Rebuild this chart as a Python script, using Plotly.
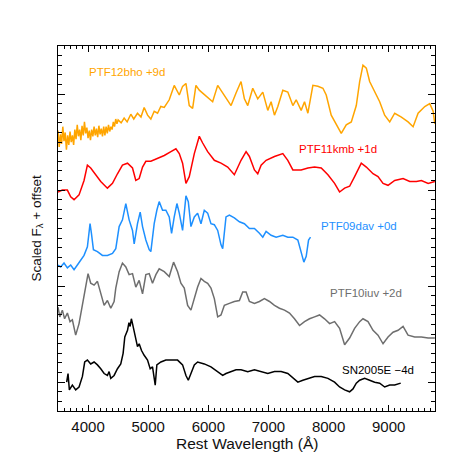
import plotly.graph_objects as go

# PTF12bho +9d (orange)
wl_12bho = [3500, 3520, 3540, 3560, 3580, 3600, 3620, 3640, 3660, 3680, 3700, 3720, 3740, 3760, 3780,
            3800, 3820, 3840, 3860, 3880, 3900, 3920, 3940, 3960, 3980, 4000, 4020, 4040, 4060, 4080,
            4100, 4120, 4140, 4160, 4180, 4200, 4220, 4240, 4260, 4280, 4300, 4320, 4340, 4360, 4380,
            4400, 4420, 4440, 4460, 4480, 4500, 4550, 4600, 4650, 4711, 4760, 4822, 4880, 4933, 4990,
            5044, 5100, 5156, 5210, 5267, 5350, 5433, 5517, 5572, 5628, 5683, 5739, 5794, 5850, 5906,
            5989, 6072, 6156, 6239, 6322, 6378, 6461, 6544, 6600, 6656, 6739, 6822, 6906, 6989, 7044,
            7100, 7156, 7239, 7322, 7406, 7461, 7544, 7600, 7656, 7739, 7822, 7906, 7961, 8044, 8128,
            8211, 8294, 8378, 8461, 8517, 8572, 8628, 8683, 8767, 8850, 8933, 9017, 9100, 9211, 9322,
            9406, 9489, 9600, 9683, 9739, 9767]
fl_12bho = [3.62, 3.45, 3.58, 3.48, 3.66, 3.51, 3.60, 3.42, 3.57, 3.47, 3.61, 3.50, 3.57, 3.47, 3.63,
            3.53, 3.68, 3.56, 3.63, 3.52, 3.67, 3.57, 3.71, 3.59, 3.65, 3.54, 3.62, 3.52, 3.63, 3.56,
            3.66, 3.57, 3.64, 3.55, 3.67, 3.58, 3.64, 3.56, 3.66, 3.57, 3.66, 3.59, 3.68, 3.61, 3.66,
            3.63, 3.71, 3.66, 3.74, 3.69, 3.73, 3.70, 3.75, 3.71, 3.79, 3.74, 3.80, 3.76, 3.86, 3.78,
            3.74, 3.82, 3.80, 3.87, 3.86, 3.94, 4.09, 3.99, 4.08, 4.11, 3.88, 3.85, 4.09, 4.04, 4.01,
            3.96, 3.92, 4.09, 4.01, 3.94, 3.88, 4.01, 4.13, 3.95, 3.88, 4.06, 3.95, 4.02, 3.83, 3.92,
            3.78, 3.87, 4.04, 4.02, 3.88, 3.94, 3.83, 3.92, 3.80, 4.09, 4.08, 4.06, 3.99, 3.78, 3.68,
            3.59, 3.68, 3.71, 3.88, 4.13, 4.30, 4.27, 4.13, 4.02, 3.92, 3.78, 3.71, 3.80, 3.76, 3.71,
            3.66, 3.80, 3.87, 3.90, 3.82, 3.69]

# PTF11kmb +1d (red)
wl_11kmb = [3500, 3572, 3656, 3711, 3767, 3850, 3933, 3989, 4044, 4128, 4211, 4322, 4406, 4489, 4572,
            4656, 4739, 4794, 4850, 4906, 4961, 5044, 5156, 5267, 5378, 5461, 5517, 5572, 5628, 5683,
            5767, 5850, 5906, 5989, 6100, 6211, 6322, 6433, 6544, 6628, 6683, 6767, 6822, 6878, 6961,
            7100, 7239, 7322, 7406, 7544, 7656, 7767, 7878, 7989, 8100, 8183, 8267, 8350, 8433, 8544,
            8628, 8739, 8822, 8906, 8989, 9100, 9239, 9350, 9461, 9544, 9656, 9767]
fl_11kmb = [2.98, 3.00, 3.00, 2.93, 2.90, 2.95, 3.10, 3.26, 3.23, 3.16, 3.09, 3.02, 3.07, 3.17, 3.26,
            3.28, 3.23, 3.10, 3.12, 3.24, 3.30, 3.30, 3.33, 3.36, 3.40, 3.43, 3.38, 3.28, 3.07, 3.14,
            3.38, 3.56, 3.49, 3.40, 3.31, 3.28, 3.24, 3.16, 3.31, 3.40, 3.35, 3.21, 3.17, 3.26, 3.31,
            3.35, 3.38, 3.31, 3.21, 3.21, 3.23, 3.24, 3.23, 3.16, 3.07, 2.98, 3.02, 3.04, 3.14, 3.28,
            3.24, 3.17, 3.14, 3.07, 3.05, 3.10, 3.12, 3.09, 3.09, 3.10, 3.07, 3.09]

# PTF09dav +0d (blue)
wl_09dav = [3500, 3544, 3600, 3656, 3711, 3767, 3822, 3878, 3933, 3989, 4017, 4033, 4056, 4089, 4156,
            4239, 4322, 4406, 4461, 4517, 4572, 4628, 4683, 4739, 4767, 4822, 4867, 4906, 4961, 5017,
            5044, 5100, 5144, 5183, 5239, 5294, 5350, 5389, 5433, 5478, 5517, 5572, 5628, 5667, 5711,
            5767, 5822, 5878, 5933, 5989, 6044, 6100, 6156, 6211, 6239, 6294, 6350, 6433, 6517, 6600,
            6683, 6767, 6850, 6906, 6961, 7044, 7128, 7239, 7322, 7406, 7489, 7544, 7589, 7628, 7667,
            7700]
fl_09dav = [2.22, 2.20, 2.24, 2.19, 2.22, 2.17, 2.22, 2.27, 2.32, 2.41, 2.62, 2.65, 2.55, 2.38, 2.36,
            2.32, 2.32, 2.34, 2.39, 2.62, 2.69, 2.86, 2.69, 2.58, 2.44, 2.65, 2.77, 2.62, 2.48, 2.38,
            2.36, 2.65, 2.79, 2.88, 2.79, 2.79, 2.72, 2.55, 2.72, 2.86, 2.76, 2.58, 2.94, 2.88, 2.62,
            2.72, 2.76, 2.65, 2.79, 2.76, 2.65, 2.64, 2.58, 2.43, 2.39, 2.72, 2.74, 2.71, 2.67, 2.65,
            2.60, 2.60, 2.55, 2.51, 2.57, 2.53, 2.51, 2.53, 2.51, 2.51, 2.48, 2.34, 2.25, 2.31, 2.48,
            2.51]

# PTF10iuv +2d (gray)
wl_10iuv = [3500, 3530, 3572, 3610, 3656, 3700, 3739, 3794, 3850, 3906, 3961, 4000, 4044, 4100, 4156,
            4211, 4267, 4322, 4378, 4433, 4461, 4517, 4572, 4628, 4683, 4739, 4794, 4850, 4906, 4961,
            5017, 5072, 5128, 5183, 5267, 5350, 5422, 5489, 5544, 5600, 5656, 5711, 5767, 5822, 5878,
            5933, 5989, 6044, 6100, 6156, 6211, 6267, 6350, 6433, 6517, 6572, 6628, 6683, 6767, 6850,
            6933, 7017, 7100, 7183, 7267, 7350, 7433, 7517, 7600, 7683, 7767, 7850, 7933, 8017, 8100,
            8183, 8267, 8350, 8433, 8517, 8572, 8656, 8739, 8822, 8906, 8989, 9072, 9156, 9239, 9322,
            9433, 9544, 9656, 9767]
fl_10iuv = [1.78, 1.68, 1.75, 1.66, 1.72, 1.63, 1.65, 1.49, 1.61, 1.80, 1.98, 2.13, 2.03, 2.01, 2.05,
            1.91, 1.80, 1.85, 1.77, 1.84, 1.98, 2.15, 2.24, 2.20, 2.12, 2.13, 1.99, 2.06, 1.92, 2.12,
            2.13, 2.03, 2.12, 2.18, 2.15, 2.10, 2.25, 2.15, 2.03, 1.98, 1.80, 1.75, 1.87, 1.99, 2.08,
            2.05, 2.03, 1.98, 1.87, 1.68, 1.70, 1.80, 1.82, 1.84, 1.85, 1.94, 1.94, 1.84, 1.82, 1.84,
            1.87, 1.84, 1.80, 1.77, 1.75, 1.72, 1.66, 1.59, 1.63, 1.66, 1.68, 1.70, 1.66, 1.61, 1.63,
            1.56, 1.39, 1.46, 1.56, 1.63, 1.66, 1.63, 1.54, 1.49, 1.40, 1.47, 1.52, 1.54, 1.58, 1.49,
            1.47, 1.47, 1.46, 1.46]

# SN2005E -4d (black)
wl_05e = [3644, 3667, 3689, 3739, 3794, 3850, 3906, 3944, 3989, 4044, 4100, 4156, 4211, 4267, 4322,
          4350, 4378, 4433, 4489, 4544, 4583, 4611, 4656, 4680, 4700, 4720, 4739, 4767, 4794, 4822,
          4850, 4889, 4933, 4989, 5033, 5072, 5117, 5144, 5211, 5294, 5378, 5489, 5572, 5628, 5667,
          5711, 5767, 5822, 5933, 6044, 6156, 6239, 6294, 6378, 6461, 6544, 6656, 6767, 6878, 6989,
          7100, 7211, 7322, 7406, 7489, 7572, 7656, 7767, 7878, 7989, 8100, 8183, 8267, 8350, 8406,
          8461, 8517, 8600, 8683, 8767, 8850, 8933, 9017, 9100, 9200]
fl_05e = [1.00, 1.09, 0.92, 0.97, 0.92, 0.95, 1.06, 1.21, 1.23, 1.19, 1.21, 1.18, 1.14, 1.09, 1.07,
          1.11, 1.04, 1.07, 1.14, 1.19, 1.30, 1.47, 1.54, 1.62, 1.58, 1.66, 1.61, 1.54, 1.44, 1.37,
          1.40, 1.33, 1.28, 1.23, 1.14, 1.16, 0.97, 1.18, 1.21, 1.23, 1.23, 1.23, 1.18, 1.07, 1.02,
          1.09, 1.18, 1.21, 1.19, 1.16, 1.11, 1.07, 1.09, 1.11, 1.13, 1.13, 1.11, 1.13, 1.11, 1.09,
          1.11, 1.11, 1.09, 1.04, 1.00, 1.02, 1.04, 1.06, 1.06, 1.04, 1.00, 0.95, 0.92, 0.90, 0.93,
          0.99, 1.02, 1.04, 1.02, 1.00, 0.99, 0.95, 0.97, 0.97, 0.99]

spectra = [
    ("PTF12bho +9d", wl_12bho, fl_12bho, "#FFA500"),
    ("PTF11kmb +1d", wl_11kmb, fl_11kmb, "#FF0000"),
    ("PTF09dav +0d", wl_09dav, fl_09dav, "#1E90FF"),
    ("PTF10iuv +2d", wl_10iuv, fl_10iuv, "#6E6E6E"),
    ("SN2005E \u22124d", wl_05e, fl_05e, "#000000"),
]

# label anchor (left edge, middle) in data coords
label_pos = [(3983, 4.23), (7483, 3.43), (7833, 2.63), (7983, 1.93), (8183, 1.13)]

fig = go.Figure()
for (name, wl, fl, color), (lx, ly) in zip(spectra, label_pos):
    fig.add_trace(go.Scatter(x=wl, y=fl, mode="lines", name=name,
                             line=dict(color=color, width=1.5)))
    fig.add_annotation(x=lx, y=ly, text=name, showarrow=False, xanchor="left",
                       yanchor="middle", font=dict(color=color, size=11.5))

# axis titles placed by hand so the plot box keeps its margins
fig.add_annotation(x=0.5, y=0, xref="paper", yref="paper", yshift=-32, showarrow=False,
                   text="Rest Wavelength (Å)", font=dict(size=15.5), yanchor="middle")
fig.add_annotation(x=0, y=0.5, xref="paper", yref="paper", xshift=-21, showarrow=False,
                   text="Scaled F<sub>λ</sub> + offset", textangle=-90, font=dict(size=13.5),
                   xanchor="center", yanchor="middle")

axis_common = dict(showline=True, linecolor="#000", linewidth=1.2, mirror="allticks",
                   ticks="inside", tickcolor="#000", showgrid=False, zeroline=False,
                   automargin=False)

fig.update_xaxes(range=[3500, 9770], dtick=1000, tick0=0, ticklen=6,
                 minor=dict(ticks="inside", dtick=100, ticklen=3, tickcolor="#000"),
                 tickfont=dict(size=15), ticklabelstandoff=2, **axis_common)
fig.update_yaxes(range=[0.7, 4.5], dtick=1, tick0=0, ticklen=7, showticklabels=False,
                 minor=dict(ticks="inside", dtick=0.1, ticklen=4, tickcolor="#000"),
                 **axis_common)

fig.update_layout(
    width=471, height=471,
    margin=dict(l=58, r=36, t=46, b=60),
    plot_bgcolor="white", paper_bgcolor="white",
    showlegend=False,
    font=dict(family="Liberation Sans, Arial, sans-serif", color="#111"),
)
# the page's default body margin would shift the figure by 8 px
fig.write_html("out.html", config={"displayModeBar": False},
               post_script="document.body.style.margin='0';")
